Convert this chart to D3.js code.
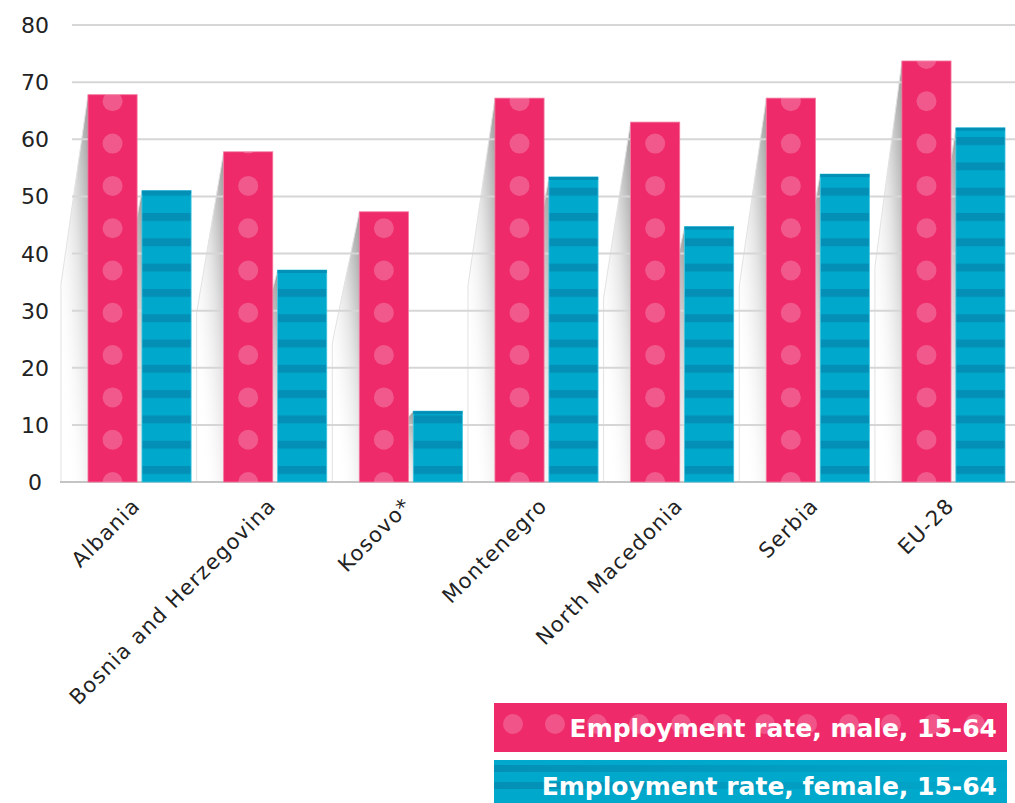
<!DOCTYPE html>
<html>
<head>
<meta charset="utf-8">
<script src="https://cdn.jsdelivr.net/npm/d3@7"></script>
<style>
  html,body{margin:0;padding:0;background:#fff}
  svg{display:block}
  text{font-family:"DejaVu Sans",sans-serif}
</style>
</head>
<body>
<svg id="chart" width="1015" height="803"></svg>
<script>
// data
const countries = ['Albania','Bosnia and Herzegovina','Kosovo*','Montenegro','North Macedonia','Serbia','EU-28']
const maleRate = [67.8, 57.8, 47.3, 67.2, 63.0, 67.2, 73.7]
const femaleRate = [51.0, 37.1, 12.4, 53.4, 44.7, 53.9, 62.0]
const yTicks = [0,10,20,30,40,50,60,70,80]
const seriesKeys = ['male','female']
const legendLabels = ['Employment rate, male, 15-64','Employment rate, female, 15-64']

const PINK = '#ee2a6b', CYAN = '#00a9cc', CYAN_DARK = '#0490b6'

const svg = d3.select('#chart')
const defs = svg.append('defs')

const x = d3.scaleBand().domain(countries).range([69, 1024]).paddingInner(0.24).paddingOuter(0.14)
const xs = d3.scaleBand().domain(seriesKeys).range([0, x.bandwidth()]).paddingInner(0.09)
const y = d3.scaleLinear().domain([0, 80]).range([482, 25])

const rows = countries.map((c,i)=>({country:c, male:maleRate[i], female:femaleRate[i]}))

// shadow gradient
const sg = defs.append('linearGradient').attr('id','shadowGrad')
  .attr('x1','1').attr('y1','0').attr('x2','0.2').attr('y2','0.9')
sg.append('stop').attr('offset','0').attr('stop-color','#8f8f8f').attr('stop-opacity',0.9)
sg.append('stop').attr('offset','0.45').attr('stop-color','#d8d8d8').attr('stop-opacity',0.7)
sg.append('stop').attr('offset','1').attr('stop-color','#ffffff').attr('stop-opacity',0)

// stripes for female bars
const stripe = defs.append('pattern').attr('id','stripes').attr('patternUnits','userSpaceOnUse')
  .attr('x',0).attr('y',213).attr('width',20).attr('height',25.3)
stripe.append('rect').attr('width',20).attr('height',25.3).attr('fill',CYAN)
stripe.append('rect').attr('width',20).attr('height',8).attr('fill',CYAN_DARK)

// shadows behind bars
const shadowOff = 27
const g = svg.append('g')
rows.forEach(d=>{
  seriesKeys.forEach(k=>{
    const bx = x(d.country) + xs(k)
    const top = y(d[k]), base = y(0)
    const mid = (top + base)/2 - 4
    g.append('path')
      .attr('d', `M${bx},${top} L${bx-shadowOff},${mid} L${bx-shadowOff},${base} L${bx},${base} Z`)
      .attr('fill','url(#shadowGrad)')
    g.append('path')
      .attr('d', `M${bx},${top} L${bx-shadowOff},${mid} L${bx-shadowOff},${base}`)
      .attr('fill','none').attr('stroke','#e2e2e2').attr('stroke-width',1)
  })
})

// gridlines
svg.append('g').selectAll('line').data(yTicks.filter(t=>t>0)).enter().append('line')
  .attr('x1',72).attr('x2',1015).attr('y1',d=>y(d)).attr('y2',d=>y(d))
  .attr('stroke','#d6d6d6').attr('stroke-width',2)
svg.append('line').attr('x1',60).attr('x2',1015).attr('y1',y(0)).attr('y2',y(0))
  .attr('stroke','#c4c4c4').attr('stroke-width',2)

// y labels
svg.append('g').selectAll('text').data(yTicks).enter().append('text')
  .attr('x',35).attr('y',d=>y(d)+8).attr('text-anchor','middle')
  .attr('font-size',22).attr('fill','#222').text(d=>d)

// bars
const bars = svg.append('g')
rows.forEach((d,i)=>{
  const gx = x(d.country)
  // male bar with dots
  const mx = gx + xs('male'), mTop = y(d.male), w = xs.bandwidth()
  const clipId = 'clipM'+i
  defs.append('clipPath').attr('id',clipId).append('rect')
    .attr('x',mx).attr('y',mTop).attr('width',w).attr('height',y(0)-mTop)
  bars.append('rect').attr('x',mx).attr('y',mTop).attr('width',w).attr('height',y(0)-mTop)
    .attr('fill',PINK).attr('stroke','#f3769d').attr('stroke-width',0.8)
  const dots = d3.range(0, 12).map(k=>y(0) - k*42.3).filter(cy=>cy > mTop - 11)
  bars.append('g').attr('clip-path',`url(#${clipId})`).selectAll('circle').data(dots).enter()
    .append('circle').attr('cx',mx + w/2).attr('cy',c=>c).attr('r',10)
    .attr('fill','#ffffff').attr('fill-opacity',0.22)
  // female bar with stripes
  const fx = gx + xs('female'), fTop = y(d.female)
  bars.append('rect').attr('x',fx).attr('y',fTop).attr('width',w).attr('height',y(0)-fTop)
    .attr('fill','url(#stripes)').attr('stroke','#3cc3df').attr('stroke-width',0.8)
  bars.append('rect').attr('x',fx).attr('y',fTop).attr('width',w).attr('height',3)
    .attr('fill',CYAN_DARK)
})

// x labels
svg.append('g').selectAll('text').data(countries).enter().append('text')
  .attr('transform',d=>`translate(${x(d)+x.bandwidth()/2+2},${y(0)+25}) rotate(-45)`)
  .attr('text-anchor','end').attr('font-size',21).attr('letter-spacing',1.2)
  .attr('fill','#222').text(d=>d)

// legend
const lg = svg.append('g')
lg.append('rect').attr('x',494).attr('y',703).attr('width',513).attr('height',49).attr('fill',PINK)
lg.append('g').selectAll('circle').data(d3.range(0,12)).enter().append('circle')
  .attr('cx',k=>513 + k*42).attr('cy',724).attr('r',10)
  .attr('fill','#ffffff').attr('fill-opacity',0.2)
lg.append('text').attr('x',997).attr('y',737).attr('text-anchor','end')
  .attr('font-size',25).attr('font-weight','bold').attr('fill','#fff').text(legendLabels[0])

const fade = defs.append('linearGradient').attr('id','fade')
fade.append('stop').attr('offset','0').attr('stop-color',CYAN_DARK).attr('stop-opacity',1)
fade.append('stop').attr('offset','1').attr('stop-color',CYAN_DARK).attr('stop-opacity',0.1)
lg.append('rect').attr('x',494).attr('y',760).attr('width',513).attr('height',50).attr('fill',CYAN)
lg.append('g').selectAll('rect').data([765, 782]).enter().append('rect')
  .attr('x',494).attr('y',d=>d).attr('width',513).attr('height',7).attr('fill','url(#fade)')
lg.append('text').attr('x',997).attr('y',795).attr('text-anchor','end')
  .attr('font-size',25).attr('font-weight','bold').attr('fill','#fff').text(legendLabels[1])
</script>
</body>
</html>
